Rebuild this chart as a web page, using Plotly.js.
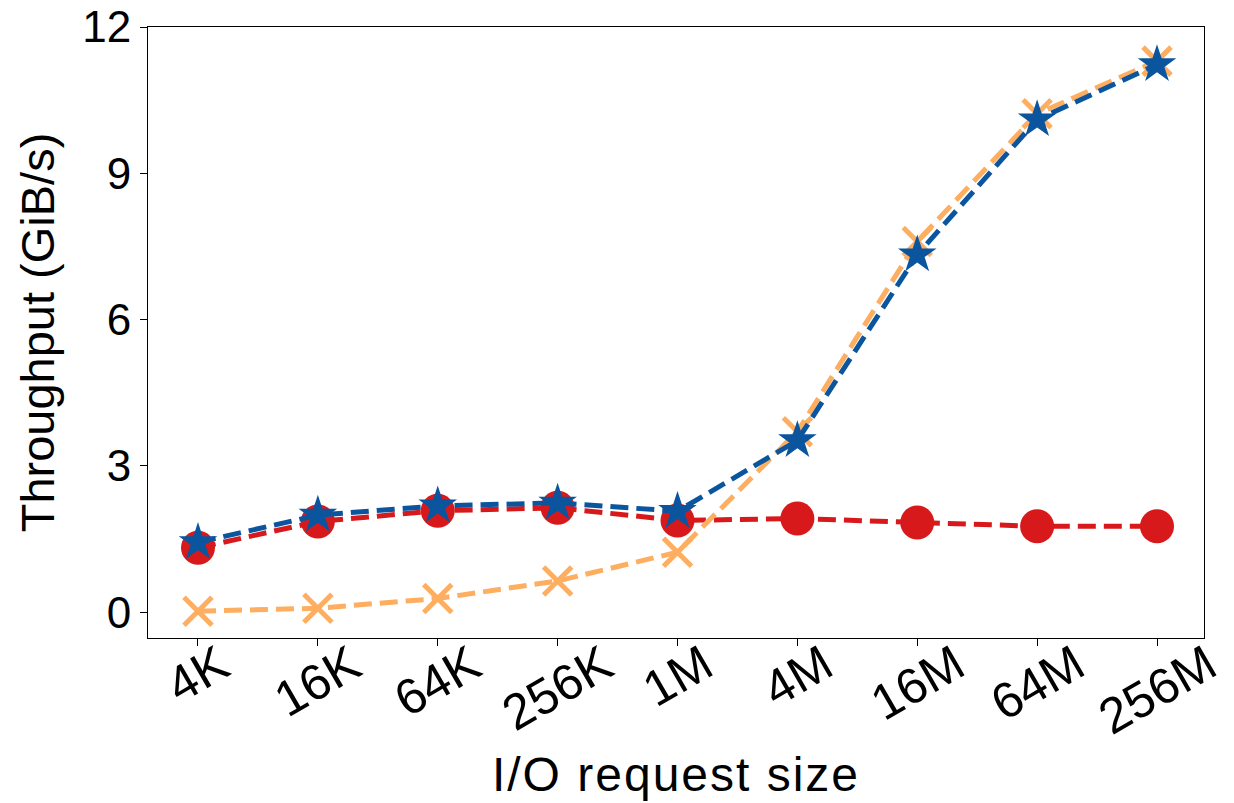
<!DOCTYPE html>
<html>
<head>
<meta charset="utf-8">
<script src="https://cdn.plot.ly/plotly-3.0.1.min.js"></script>
<style>
html,body{margin:0;padding:0;background:#fff;}
#chart{width:1234px;height:803px;}
#chart .g-xtitle text{letter-spacing:2px;}
</style>
</head>
<body>
<div id="chart"></div>
<script>
const categories = ["4K", "16K", "64K", "256K", "1M", "4M", "16M", "64M", "256M"];
const seriesRed = [1.32, 1.86, 2.08, 2.14, 1.88, 1.92, 1.84, 1.76, 1.76];
const seriesOrange = [0.02, 0.08, 0.28, 0.64, 1.23, 3.7, 7.6, 10.22, 11.3];
const seriesBlue = [1.43, 1.99, 2.18, 2.24, 2.07, 3.52, 7.33, 10.1, 11.23];
const yTicks = [0, 3, 6, 9, 12];

const FONT = "Liberation Sans, Arial, sans-serif";
const dash = "18px,8px";

const traces = [
  {x: categories, y: seriesRed, type: "scatter", mode: "lines+markers", name: "red",
   line: {color: "#d7191c", width: 5, dash: dash},
   marker: {symbol: "circle", size: 34, color: "#d7191c"}},
  {x: categories, y: seriesOrange, type: "scatter", mode: "lines+markers", name: "orange",
   line: {color: "#fdae61", width: 5, dash: dash},
   marker: {symbol: "x-thin", size: 28, color: "#fdae61", line: {color: "#fdae61", width: 5}}},
  {x: categories, y: seriesBlue, type: "scatter", mode: "lines+markers", name: "blue",
   line: {color: "#0b559f", width: 5, dash: dash},
   marker: {symbol: "star", size: 29, color: "#0b559f", line: {width: 0}}}
];

const annotations = categories.map(c => ({
  x: c, y: 0.01, xref: "x", yref: "paper",
  text: c, showarrow: false, textangle: -30,
  xanchor: "center", yanchor: "top",
  font: {family: FONT, size: 50, color: "#000"}
}));

const layout = {
  width: 1234, height: 803,
  margin: {l: 148, r: 30, t: 27, b: 165},
  paper_bgcolor: "#fff", plot_bgcolor: "#fff",
  showlegend: false,
  font: {family: FONT, color: "#000"},
  xaxis: {
    type: "category", range: [-0.417, 8.392],
    showgrid: false, zeroline: false,
    showline: true, mirror: true, linecolor: "#000", linewidth: 1,
    ticks: "outside", ticklen: 7, tickwidth: 1, tickcolor: "#000",
    showticklabels: false,
    title: {text: "I/O request size", font: {family: FONT, size: 48, color: "#000"}, standoff: 112}
  },
  yaxis: {
    range: [-0.53, 12], tickvals: yTicks,
    ticklabeloverflow: "allow",
    showgrid: false, zeroline: false,
    showline: true, mirror: true, linecolor: "#000", linewidth: 1,
    ticks: "outside", ticklen: 7, tickwidth: 1, tickcolor: "#000",
    tickfont: {family: FONT, size: 44, color: "#000"},
    title: {text: "Throughput (GiB/s)", font: {family: FONT, size: 47, color: "#000"}, standoff: 12}
  },
  annotations: annotations
};

Plotly.newPlot("chart", traces, layout, {displayModeBar: false, staticPlot: true});
</script>
</body>
</html>
